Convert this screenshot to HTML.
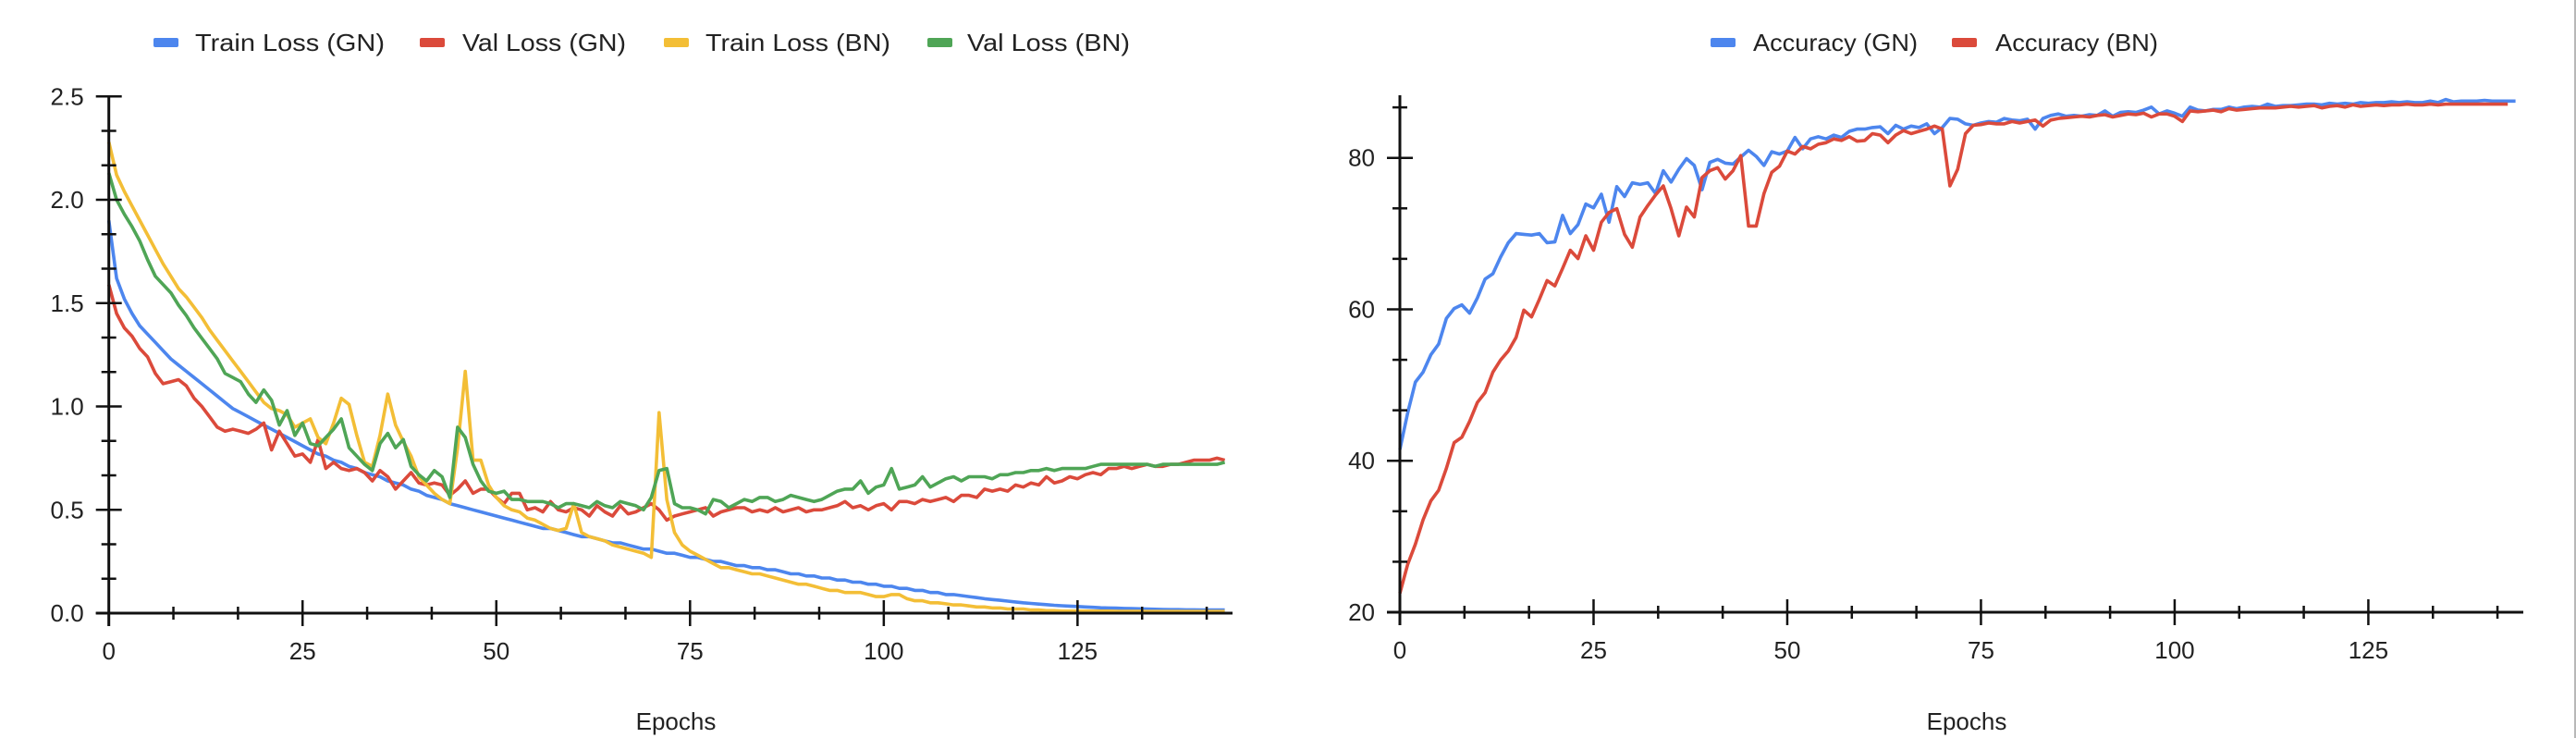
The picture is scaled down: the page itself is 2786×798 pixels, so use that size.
<!DOCTYPE html>
<html><head><meta charset="utf-8"><style>
html,body{margin:0;padding:0;background:#fff;}
svg{display:block;font-family:"Liberation Sans",sans-serif;}
</style></head><body>
<svg id="chart" width="2786" height="798" viewBox="0 0 2786 798" xmlns="http://www.w3.org/2000/svg">
<line x1="2785" y1="0" x2="2785" y2="798" stroke="#b8b8b8" stroke-width="2"/>
</svg>
<script>
const epochsMax = 145;
const lossTicks = ["0.0","0.5","1.0","1.5","2.0","2.5"];
const lossTickValues = [0,0.5,1,1.5,2,2.5];
const accTicks = ["20","40","60","80"];
const accTickValues = [20,40,60,80];
const xTicks = ["0","25","50","75","100","125"];
const xTickValues = [0,25,50,75,100,125];

const trainLossGN = [1.90,1.62,1.52,1.45,1.39,1.35,1.31,1.27,1.23,1.20,1.17,1.14,1.11,1.08,1.05,1.02,0.99,0.97,0.95,0.93,0.91,0.89,0.87,0.85,0.83,0.81,0.79,0.77,0.76,0.74,0.73,0.71,0.70,0.68,0.67,0.66,0.64,0.63,0.62,0.60,0.59,0.57,0.56,0.55,0.53,0.52,0.51,0.50,0.49,0.48,0.47,0.46,0.45,0.44,0.43,0.42,0.41,0.41,0.40,0.39,0.38,0.37,0.37,0.36,0.35,0.34,0.34,0.33,0.32,0.31,0.31,0.30,0.29,0.29,0.28,0.27,0.27,0.26,0.25,0.25,0.24,0.23,0.23,0.22,0.22,0.21,0.21,0.20,0.19,0.19,0.18,0.18,0.17,0.17,0.16,0.16,0.15,0.15,0.14,0.14,0.13,0.13,0.12,0.12,0.11,0.11,0.10,0.10,0.09,0.09,0.085,0.08,0.075,0.07,0.066,0.062,0.058,0.054,0.05,0.047,0.044,0.041,0.038,0.036,0.034,0.032,0.03,0.028,0.026,0.025,0.024,0.023,0.022,0.021,0.02,0.019,0.018,0.017,0.017,0.016,0.016,0.015,0.015,0.015,0.015];
const valLossGN = [1.59,1.45,1.38,1.34,1.28,1.24,1.16,1.11,1.12,1.13,1.10,1.04,1.00,0.95,0.90,0.88,0.89,0.88,0.87,0.89,0.92,0.79,0.88,0.82,0.76,0.77,0.73,0.84,0.70,0.73,0.70,0.69,0.70,0.68,0.64,0.69,0.66,0.60,0.64,0.68,0.63,0.62,0.63,0.62,0.57,0.60,0.64,0.58,0.60,0.60,0.56,0.53,0.58,0.58,0.50,0.51,0.49,0.54,0.50,0.49,0.51,0.50,0.47,0.52,0.49,0.47,0.52,0.48,0.49,0.51,0.53,0.50,0.45,0.47,0.48,0.49,0.50,0.51,0.47,0.49,0.50,0.51,0.51,0.49,0.50,0.49,0.51,0.49,0.50,0.51,0.49,0.50,0.50,0.51,0.52,0.54,0.51,0.52,0.50,0.52,0.53,0.50,0.54,0.54,0.53,0.55,0.54,0.55,0.56,0.54,0.57,0.57,0.56,0.60,0.59,0.60,0.59,0.62,0.61,0.63,0.62,0.66,0.63,0.64,0.66,0.65,0.67,0.68,0.67,0.70,0.70,0.71,0.70,0.71,0.72,0.71,0.71,0.72,0.72,0.73,0.74,0.74,0.74,0.75,0.74];
const trainLossBN = [2.28,2.12,2.04,1.97,1.90,1.83,1.76,1.69,1.63,1.57,1.53,1.48,1.43,1.37,1.32,1.27,1.22,1.17,1.12,1.07,1.02,0.99,0.98,0.96,0.90,0.92,0.94,0.85,0.82,0.92,1.04,1.01,0.86,0.73,0.71,0.86,1.06,0.91,0.83,0.76,0.66,0.62,0.58,0.55,0.53,0.80,1.17,0.74,0.74,0.62,0.56,0.52,0.50,0.49,0.46,0.45,0.43,0.41,0.40,0.41,0.53,0.39,0.37,0.36,0.35,0.33,0.32,0.31,0.30,0.29,0.27,0.97,0.55,0.39,0.33,0.30,0.28,0.26,0.24,0.22,0.22,0.21,0.20,0.19,0.19,0.18,0.17,0.16,0.15,0.14,0.14,0.13,0.12,0.11,0.11,0.10,0.10,0.10,0.09,0.08,0.08,0.09,0.09,0.07,0.06,0.06,0.05,0.05,0.045,0.04,0.04,0.035,0.03,0.03,0.025,0.025,0.02,0.02,0.02,0.015,0.015,0.012,0.012,0.01,0.01,0.01,0.01,0.01,0.01,0.01,0.009,0.009,0.009,0.009,0.008,0.008,0.008,0.008,0.008,0.008,0.008,0.008,0.008,0.008,0.008];
const valLossBN = [2.13,2.00,1.93,1.87,1.80,1.71,1.63,1.59,1.55,1.49,1.44,1.38,1.33,1.28,1.23,1.16,1.14,1.12,1.06,1.02,1.08,1.03,0.91,0.98,0.86,0.92,0.82,0.81,0.85,0.89,0.94,0.80,0.76,0.72,0.69,0.82,0.87,0.80,0.84,0.71,0.67,0.64,0.69,0.66,0.56,0.90,0.85,0.72,0.64,0.59,0.58,0.59,0.55,0.55,0.54,0.54,0.54,0.53,0.51,0.53,0.53,0.52,0.51,0.54,0.52,0.51,0.54,0.53,0.52,0.50,0.56,0.69,0.70,0.53,0.51,0.51,0.50,0.48,0.55,0.54,0.51,0.53,0.55,0.54,0.56,0.56,0.54,0.55,0.57,0.56,0.55,0.54,0.55,0.57,0.59,0.60,0.60,0.64,0.58,0.61,0.62,0.70,0.60,0.61,0.62,0.66,0.61,0.63,0.65,0.66,0.64,0.66,0.66,0.66,0.65,0.67,0.67,0.68,0.68,0.69,0.69,0.70,0.69,0.70,0.70,0.70,0.70,0.71,0.72,0.72,0.72,0.72,0.72,0.72,0.72,0.71,0.72,0.72,0.72,0.72,0.72,0.72,0.72,0.72,0.73];
const accGN = [41.5,46.3,50.4,51.7,54,55.4,58.8,60.1,60.6,59.5,61.5,64,64.7,66.9,68.8,70,69.9,69.8,70,68.8,68.9,72.4,70,71.2,73.9,73.4,75.2,71.5,76.2,74.9,76.7,76.5,76.7,75.3,78.3,76.8,78.5,79.9,79,75.8,79.4,79.8,79.3,79.2,80.1,81,80.2,79,80.8,80.5,80.9,82.7,81.2,82.5,82.8,82.5,83,82.7,83.5,83.8,83.8,84,84.1,83.2,84.3,83.8,84.2,84,84.5,83.2,84,85.2,85.1,84.5,84.3,84.6,84.8,84.7,85.2,85,84.9,85.1,83.8,85.2,85.6,85.8,85.5,85.6,85.5,85.7,85.6,86.2,85.5,86,86.1,86,86.3,86.7,85.8,86.2,85.9,85.5,86.7,86.3,86.2,86.4,86.4,86.7,86.5,86.7,86.8,86.7,87.1,86.8,86.9,86.9,87,87.1,87.1,87,87.2,87.1,87.2,87.1,87.3,87.2,87.3,87.3,87.4,87.3,87.4,87.3,87.3,87.5,87.3,87.7,87.4,87.5,87.5,87.5,87.6,87.5,87.5,87.5,87.5];
const accBN = [22.5,26.3,29,32.2,34.7,36.1,39,42.4,43.1,45.2,47.7,49,51.7,53.3,54.5,56.3,59.9,59,61.3,63.8,63.1,65.4,67.8,66.7,69.7,67.8,71.5,72.8,73.3,69.9,68.2,72.2,73.7,75.1,76.3,73.3,69.7,73.5,72.2,77.4,78.3,78.7,77.2,78.3,80.3,71,71,75.3,78.1,78.9,80.9,80.5,81.5,81.2,81.8,82,82.5,82.3,82.8,82.2,82.3,83.2,83,82,83,83.6,83.2,83.5,83.8,84.2,83.8,76.3,78.5,83.2,84.3,84.4,84.6,84.5,84.5,84.8,84.6,84.8,85,84.2,85,85.2,85.3,85.4,85.5,85.4,85.6,85.7,85.4,85.6,85.8,85.7,85.9,85.4,85.8,85.8,85.5,84.8,86.2,86.1,86.2,86.3,86.1,86.5,86.3,86.4,86.5,86.6,86.6,86.6,86.7,86.8,86.7,86.8,86.9,86.6,86.8,86.9,86.7,87,86.8,86.9,87,86.9,87,87,87.1,87,87,87.1,87,87.1,87.1,87.1,87.1,87.1,87.1,87.1,87.1,87.1];

const lossLegend = ["Train Loss (GN)","Val Loss (GN)","Train Loss (BN)","Val Loss (BN)"];
const accLegend = ["Accuracy (GN)","Accuracy (BN)"];

const C = {blue:"#4d86ee", red:"#db4a3b", yellow:"#f3be36", green:"#4fa556"};
const svg = document.getElementById('chart');
const NS = "http://www.w3.org/2000/svg";
function mk(tag, attrs, parent){ const e=document.createElementNS(NS,tag); for(const k in attrs) e.setAttribute(k,attrs[k]); (parent||svg).appendChild(e); return e; }

function drawPanel(cfg){
  const g = mk('g',{});
  
  
  const xs = v => cfg.x0 + (v/epochsMax)*(cfg.x1-cfg.x0);
  const ys = v => cfg.yb - (v-cfg.ymin)/(cfg.ymax-cfg.ymin)*(cfg.yb-cfg.yt);
  cfg.series.forEach(s=>{
    const d = s.data.map((v,i)=>(i?'L':'M')+xs(i).toFixed(1)+','+ys(v).toFixed(1)).join('');
    const p = mk('path',{d:d,fill:'none',stroke:s.color,'stroke-width':3.6,'stroke-linejoin':'round'},g);
    
    
  });
  const ya = mk('line',{x1:cfg.x0,y1:cfg.ytop,x2:cfg.x0,y2:cfg.yb+14,stroke:'#111','stroke-width':3},g);
  
  
  const xa = mk('line',{x1:cfg.x0-14,y1:cfg.yb,x2:cfg.x1,y2:cfg.yb,stroke:'#111','stroke-width':3},g);
  
  
  const ystep = cfg.yStep/3;
  for(let v=cfg.ymin; v<=cfg.ymaxTick+1e-9; v+=ystep){
    const major = Math.abs((v-cfg.ymin)/cfg.yStep - Math.round((v-cfg.ymin)/cfg.yStep))<1e-6;
    const len = major?14:8;
    mk('line',{x1:cfg.x0-len,y1:ys(v),x2:cfg.x0+len,y2:ys(v),stroke:'#111','stroke-width':2.5},g);
  }
  cfg.yLabels.forEach((t,i)=>{
    const tx = mk('text',{x:cfg.x0-27,y:ys(cfg.yVals[i])+9,'text-anchor':'end','font-size':26,fill:'#222'},g);
    tx.textContent = t;
    
    
  });
  for(let v=0; v<=epochsMax+1e-9; v+=25/3){
    const major = Math.abs(v/25-Math.round(v/25))<1e-6;
    const len = major?14:7;
    mk('line',{x1:xs(v),y1:cfg.yb-len,x2:xs(v),y2:cfg.yb+len,stroke:'#111','stroke-width':2.5},g);
  }
  xTicks.forEach((t,i)=>{
    const tx = mk('text',{x:xs(xTickValues[i]),y:cfg.yb+50,'text-anchor':'middle','font-size':26,fill:'#222'},g);
    tx.textContent = t;
    
    
  });
  const xt = mk('text',{x:cfg.titleX,y:789,'text-anchor':'middle','font-size':26,fill:'#222'},g);
  xt.textContent = 'Epochs';
  
  
  cfg.legend.forEach((l,i)=>{
    const it = mk('g',{},g);
    
    
    mk('rect',{x:l.sx,y:41,width:27,height:10,fill:cfg.series[i].color,rx:2},it);
    const tx = mk('text',{x:l.tx,y:55,'font-size':26,fill:'#222',textLength:l.w,lengthAdjust:'spacingAndGlyphs'},it);
    tx.textContent = l.label;
  });
}

drawPanel({name:'loss-chart',x0:117.7,x1:1333,yb:663,yt:104.3,ytop:104.3,ymin:0,ymax:2.5,ymaxTick:2.5,yStep:0.5,
  yLabels:lossTicks,yVals:lossTickValues,titleX:731,
  series:[{key:'train-loss-gn-line',data:trainLossGN,color:C.blue},{key:'val-loss-gn-line',data:valLossGN,color:C.red},
          {key:'train-loss-bn-line',data:trainLossBN,color:C.yellow},{key:'val-loss-bn-line',data:valLossBN,color:C.green}],
  legend:[{label:lossLegend[0],sx:166,tx:211,w:205},{label:lossLegend[1],sx:454,tx:500,w:177},
          {label:lossLegend[2],sx:718,tx:763,w:200},{label:lossLegend[3],sx:1003,tx:1046,w:176}]});

drawPanel({name:'accuracy-chart',x0:1514,x1:2729,yb:662,yt:170.7,ytop:103,ymin:20,ymax:80,ymaxTick:87,yStep:20,
  yLabels:accTicks,yVals:accTickValues,titleX:2127,
  series:[{key:'accuracy-gn-line',data:accGN,color:C.blue},{key:'accuracy-bn-line',data:accBN,color:C.red}],
  legend:[{label:accLegend[0],sx:1850,tx:1896,w:178},{label:accLegend[1],sx:2111,tx:2158,w:176}]});
</script>
</body></html>
